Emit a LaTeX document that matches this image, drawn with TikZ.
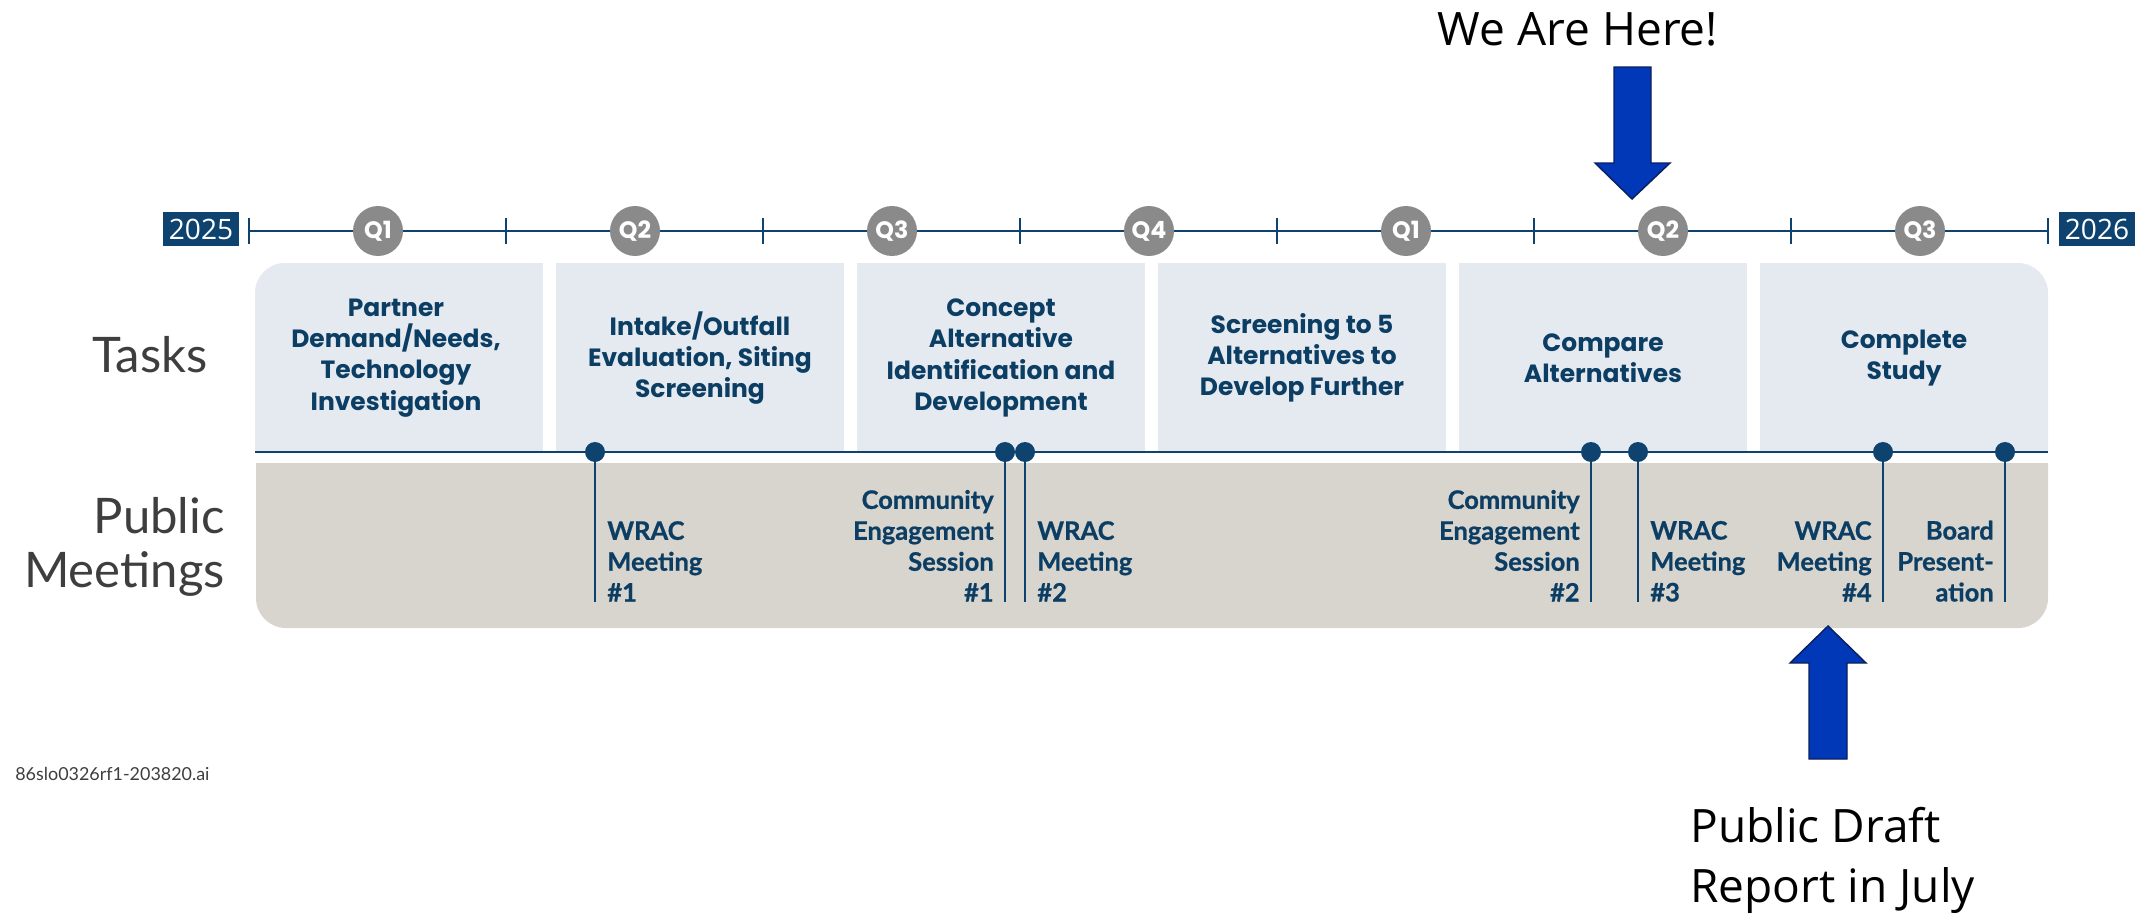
\documentclass[tikz,border=0pt]{standalone}
\usepackage{fontspec}
\setmainfont{Lato}
\newfontfamily\popfont{Poppins}
\newfontfamily\slidefont{Open Sans}
\newfontfamily\meetfont{Lato}[BoldFeatures={FakeBold=0.8}]
\definecolor{navy}{RGB}{14,67,111}
\definecolor{taskfill}{RGB}{229,234,241}
\definecolor{meetfill}{RGB}{216,212,206}
\definecolor{qgray}{RGB}{138,138,138}
\definecolor{taskink}{RGB}{12,62,100}
\definecolor{labelgray}{RGB}{62,62,62}
\definecolor{arrowblue}{RGB}{0,56,184}
\definecolor{arrowedge}{RGB}{12,30,92}

\begin{document}
\begin{tikzpicture}[x=0.02cm, y=-0.02cm,
    qmark/.style={circle, fill=qgray, minimum size=1cm, inner sep=0pt, text=white, font=\popfont\bfseries\fontsize{13.5}{14}\selectfont},
    tickmark/.style={rectangle, fill=navy, minimum width=1.5pt, minimum height=0.52cm, inner sep=0pt},
    yearbox/.style={rectangle, fill=navy, text=white, minimum width=1.52cm, minimum height=0.68cm, inner sep=0pt, font=\slidefont\fontsize{16}{18}\selectfont},
    tasktext/.style={align=center, text=taskink, inner sep=0pt, font=\popfont\bfseries\fontsize{14.2}{17.8}\selectfont},
    meetdot/.style={circle, fill=navy, minimum size=0.4cm, inner sep=0pt},
    stem/.style={navy, line width=1.5pt},
    meetlabel/.style={text=taskink, inner sep=0pt, font=\meetfont\bfseries\fontsize{14.5}{17.6}\selectfont},
    rowlabel/.style={text=labelgray, inner sep=0pt, font=\fontsize{27.9}{30.7}\selectfont},
    callout/.style={inner sep=0pt, font=\slidefont\fontsize{26.2}{34}\selectfont},
    blockarrow/.style={fill=arrowblue, draw=arrowedge, line width=0.8pt}
  ]
  \useasboundingbox (0,0) rectangle (2150,913);

  \begin{scope}
    \clip (0,263) rectangle (2150,452);
    \fill[taskfill, rounded corners=0.6cm] (255,263) rectangle (2048,520);
  \end{scope}
  \fill[white] (543,263) rectangle (556,452);
  \fill[white] (844,263) rectangle (857,452);
  \fill[white] (1145,263) rectangle (1158,452);
  \fill[white] (1446,263) rectangle (1459,452);
  \fill[white] (1747,263) rectangle (1760,452);
  \begin{scope}
    \clip (0,463) rectangle (2150,700);
    \fill[meetfill, rounded corners=0.6cm] (256,400) rectangle (2048,628);
  \end{scope}

  \node[rowlabel, anchor=base east] (tasks) at (208,372) {Tasks};
  \node[rowlabel, align=right, anchor=east] (public) at (225,547) {Public\\Meetings};

  \node[tasktext] (t1) at (396,358) {Partner\\Demand/Needs,\\Technology\\Investigation};
  \node[tasktext] (t2) at (700,358) {Intake/Outfall\\Evaluation, Siting\\Screening};
  \node[tasktext] (t3) at (1001,358) {Concept\\Alternative\\Identification and\\Development};
  \node[tasktext] (t4) at (1302,358) {Screening to 5\\Alternatives to\\Develop Further};
  \node[tasktext] (t5) at (1603,358) {Compare\\Alternatives};
  \node[tasktext] (t6) at (1904,358) {Complete\\Study};

  \coordinate (sepL) at (255,452);
  \coordinate (sepR) at (2048,452);
  \draw[navy, line width=1pt] (sepL) -- (sepR);

  \coordinate (b1) at (595,602);
  \coordinate (b2) at (1005,602);
  \coordinate (b3) at (1025,602);
  \coordinate (b4) at (1591,602);
  \coordinate (b5) at (1638,602);
  \coordinate (b6) at (1883,602);
  \coordinate (b7) at (2005,602);
  \node[meetdot] (m1) at (595,452) {};
  \node[meetdot] (m2) at (1005,452) {};
  \node[meetdot] (m3) at (1025,452) {};
  \node[meetdot] (m4) at (1591,452) {};
  \node[meetdot] (m5) at (1638,452) {};
  \node[meetdot] (m6) at (1883,452) {};
  \node[meetdot] (m7) at (2005,452) {};
  \draw[stem] (m1.center) -- (b1);
  \draw[stem] (m2.center) -- (b2);
  \draw[stem] (m3.center) -- (b3);
  \draw[stem] (m4.center) -- (b4);
  \draw[stem] (m5.center) -- (b5);
  \draw[stem] (m6.center) -- (b6);
  \draw[stem] (m7.center) -- (b7);

  \node[meetlabel, align=left, anchor=south west] (l1) at ([xshift=0.24cm]b1) {WRAC\\Meeting\\\#1};
  \node[meetlabel, align=right, anchor=south east] (l2) at ([xshift=-0.22cm]b2) {Community\\Engagement\\Session\\\#1};
  \node[meetlabel, align=left, anchor=south west] (l3) at ([xshift=0.24cm]b3) {WRAC\\Meeting\\\#2};
  \node[meetlabel, align=right, anchor=south east] (l4) at ([xshift=-0.22cm]b4) {Community\\Engagement\\Session\\\#2};
  \node[meetlabel, align=left, anchor=south west] (l5) at ([xshift=0.24cm]b5) {WRAC\\Meeting\\\#3};
  \node[meetlabel, align=right, anchor=south east] (l6) at ([xshift=-0.22cm]b6) {WRAC\\Meeting\\\#4};
  \node[meetlabel, align=right, anchor=south east] (l7) at ([xshift=-0.22cm]b7) {Board\\Present-\\ation};

  \node[tickmark] (k0) at (249,231) {};
  \node[tickmark] (k1) at (506,231) {};
  \node[tickmark] (k2) at (763,231) {};
  \node[tickmark] (k3) at (1020,231) {};
  \node[tickmark] (k4) at (1277,231) {};
  \node[tickmark] (k5) at (1534,231) {};
  \node[tickmark] (k6) at (1791,231) {};
  \node[tickmark] (k7) at (2048,231) {};
  \draw[navy, line width=1.5pt] (k0.center) -- (k7.center);
  \node[qmark] (q1) at (378,231) {Q1};
  \node[qmark] (q2) at (635,231) {Q2};
  \node[qmark] (q3) at (892,231) {Q3};
  \node[qmark] (q4) at (1149,231) {Q4};
  \node[qmark] (q5) at (1406,231) {Q1};
  \node[qmark] (q6) at (1663,231) {Q2};
  \node[qmark] (q7) at (1920,231) {Q3};
  \node[yearbox] (y25) at (201,229) {2025};
  \node[yearbox] (y26) at (2097,229) {2026};

  \node[callout, anchor=base] (here) at (1578,45) {We Are Here!};
  \draw[blockarrow] (1614,67) -- (1651,67) -- (1651,163) -- (1670,163) -- (1632,199) -- (1595,163) -- (1614,163) -- cycle;
  \draw[blockarrow] (1809,759) -- (1847,759) -- (1847,663) -- (1866,663) -- (1828,626) -- (1790,663) -- (1809,663) -- cycle;
  \node[callout, align=left, anchor=north west] (draft) at (1690,807) {Public Draft\\Report in July};

  \node[text=labelgray, inner sep=0pt, anchor=base west, font=\fontsize{10.2}{12}\selectfont] (fname) at (15,780) {86slo0326rf1-203820.ai};
\end{tikzpicture}
\end{document}
